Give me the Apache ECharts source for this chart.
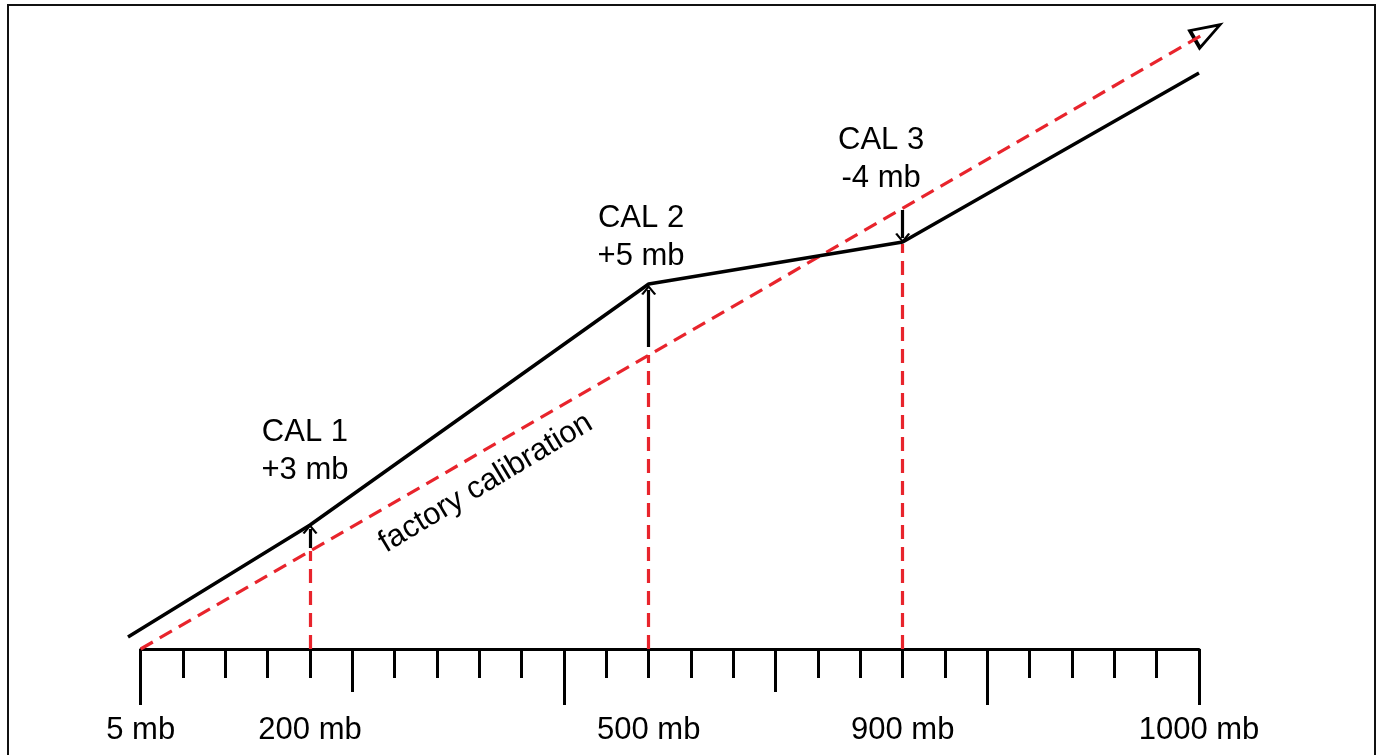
<!DOCTYPE html>
<html>
<head>
<meta charset="utf-8">
<script src="https://cdn.jsdelivr.net/npm/echarts@6/dist/echarts.min.js"></script>
<style>
html,body{margin:0;padding:0;background:#fff;}
#main{width:1381px;height:755px;}
</style>
</head>
<body>
<div id="main"></div>
<script>
// scale: one unit per tick
var tickLabelValues = [0, 4, 12, 18, 25];
var tickLabelNames = ['5 mb', '200 mb', '500 mb', '900 mb', '1000 mb'];
var midTicks = [5, 15];
var majorTicks = [0, 10, 20, 25];

// factory calibration (straight) and the corrected line
var factoryLine = [[0, 0], [25.2, 617]];
var calLine = [[-0.3, 12], [4, 124], [12, 365], [18, 407], [25, 576]];

var calPoints = [4, 12, 18];
var calLabelX = [3.88, 11.82, 17.49];
var calLabelY = [198, 412, 490];
var calNames = ['CAL 1', 'CAL 2', 'CAL 3'];
var calShifts = ['+3 mb', '+5 mb', '-4 mb'];
var dropTop = [98, 294, 405];
var arrowFrom = [101, 302, 439];
var arrowTo = [120, 359, 411];

var factoryText = 'factory calibration';
var factoryTextPos = [8.15, 166];

window.onload = function () {
    var chart = echarts.init(document.getElementById('main'));
    var red = '#e8242c';
    var font = 'Liberation Sans, Arial, sans-serif';
    var chevron = 'path://M0,10 L6,0 L12,10 L10.4,11.2 L6,3.6 L1.6,11.2 Z';
    var unit = (1199 - 140.7) / 25;

    var dropLines = calPoints.map(function (x, i) {
        return [{coord: [x, 0]}, {coord: [x, dropTop[i]]}];
    });
    var arrows = calPoints.map(function (x, i) {
        return [{coord: [x, arrowFrom[i]]}, {coord: [x, arrowTo[i]]}];
    });

    function tickAxis(extra) {
        var a = {
            type: 'value',
            gridIndex: 0,
            position: 'bottom',
            min: 0,
            max: 25,
            interval: 1,
            splitLine: {show: false},
            axisLine: {show: false},
            axisLabel: {show: false},
            axisTick: {show: false}
        };
        for (var k in extra) a[k] = extra[k];
        return a;
    }
    var tickStyle = {color: '#000', width: 3};

    var txt = {
        color: '#000',
        fontSize: 31,
        fontFamily: font,
        textBorderWidth: 0
    };

    var option = {
        animation: false,
        backgroundColor: '#fff',
        graphic: [{
            type: 'rect',
            shape: {x: 8, y: 5, width: 1367, height: 760},
            style: {fill: 'none', stroke: '#111', lineWidth: 2},
            silent: true
        }],
        grid: [
            {left: 140.7, right: 182, top: 49, bottom: 106},
            // drawing area, starts one tick before the scale
            {left: 140.7 - unit, right: 182, top: 49, bottom: 106}
        ],
        xAxis: [
            tickAxis({
                axisLine: {show: true, lineStyle: {color: '#000', width: 3}},
                axisTick: {show: true, length: 29, lineStyle: tickStyle}
            }),
            tickAxis({
                axisTick: {show: true, customValues: midTicks, length: 43, lineStyle: tickStyle}
            }),
            tickAxis({
                axisTick: {show: true, customValues: majorTicks, length: 56, lineStyle: tickStyle},
                axisLabel: {
                    show: true,
                    customValues: tickLabelValues,
                    margin: 66,
                    color: '#000',
                    fontSize: 31,
                    fontFamily: font,
                    formatter: function (v) {
                        var i = tickLabelValues.indexOf(v);
                        return i >= 0 ? tickLabelNames[i] : '';
                    }
                }
            }),
            {type: 'value', gridIndex: 1, min: -1, max: 25, show: false}
        ],
        yAxis: [
            {type: 'value', gridIndex: 0, min: 0, max: 600, show: false},
            {type: 'value', gridIndex: 1, min: 0, max: 600, show: false}
        ],
        series: [{
            name: 'factory',
            type: 'line',
            xAxisIndex: 3,
            yAxisIndex: 1,
            data: factoryLine,
            symbol: 'none',
            clip: false,
            lineStyle: {color: red, width: 3.2, type: [14, 8]},
            markLine: {
                silent: true,
                symbol: ['none', 'none'],
                label: {show: false},
                lineStyle: {color: red, width: 3.2, type: [14, 8]},
                data: dropLines
            }
        }, {
            name: 'calibrated',
            type: 'line',
            xAxisIndex: 3,
            yAxisIndex: 1,
            data: calLine,
            symbol: 'none',
            clip: false,
            lineStyle: {color: '#000', width: 3.5},
            markLine: {
                silent: true,
                symbol: ['none', chevron],
                symbolSize: [15, 10],
                label: {show: false},
                lineStyle: {color: '#000', width: 3.2, type: 'solid'},
                data: arrows
            }
        }, {
            name: 'head',
            type: 'scatter',
            xAxisIndex: 3,
            yAxisIndex: 1,
            data: [factoryLine[factoryLine.length - 1]],
            symbol: 'triangle',
            symbolSize: [20, 29],
            symbolRotate: -60,
            clip: false,
            itemStyle: {color: '#fff', borderColor: '#000', borderWidth: 3.2, opacity: 1}
        }, {
            name: 'labels',
            type: 'scatter',
            xAxisIndex: 3,
            yAxisIndex: 1,
            data: calLabelX.map(function (x, i) { return [x, calLabelY[i]]; }),
            symbolSize: 0,
            itemStyle: {opacity: 1},
            label: Object.assign({
                show: true,
                position: 'inside',
                lineHeight: 38,
                align: 'center',
                formatter: function (p) {
                    return calNames[p.dataIndex] + '\n' + calShifts[p.dataIndex];
                }
            }, txt)
        }, {
            name: 'factoryText',
            type: 'scatter',
            xAxisIndex: 3,
            yAxisIndex: 1,
            data: [factoryTextPos],
            symbolSize: 0,
            itemStyle: {opacity: 1},
            label: Object.assign({
                show: true,
                position: 'inside',
                rotate: 31,
                formatter: factoryText
            }, txt)
        }]
    };
    chart.setOption(option);
};
</script>
</body>
</html>
